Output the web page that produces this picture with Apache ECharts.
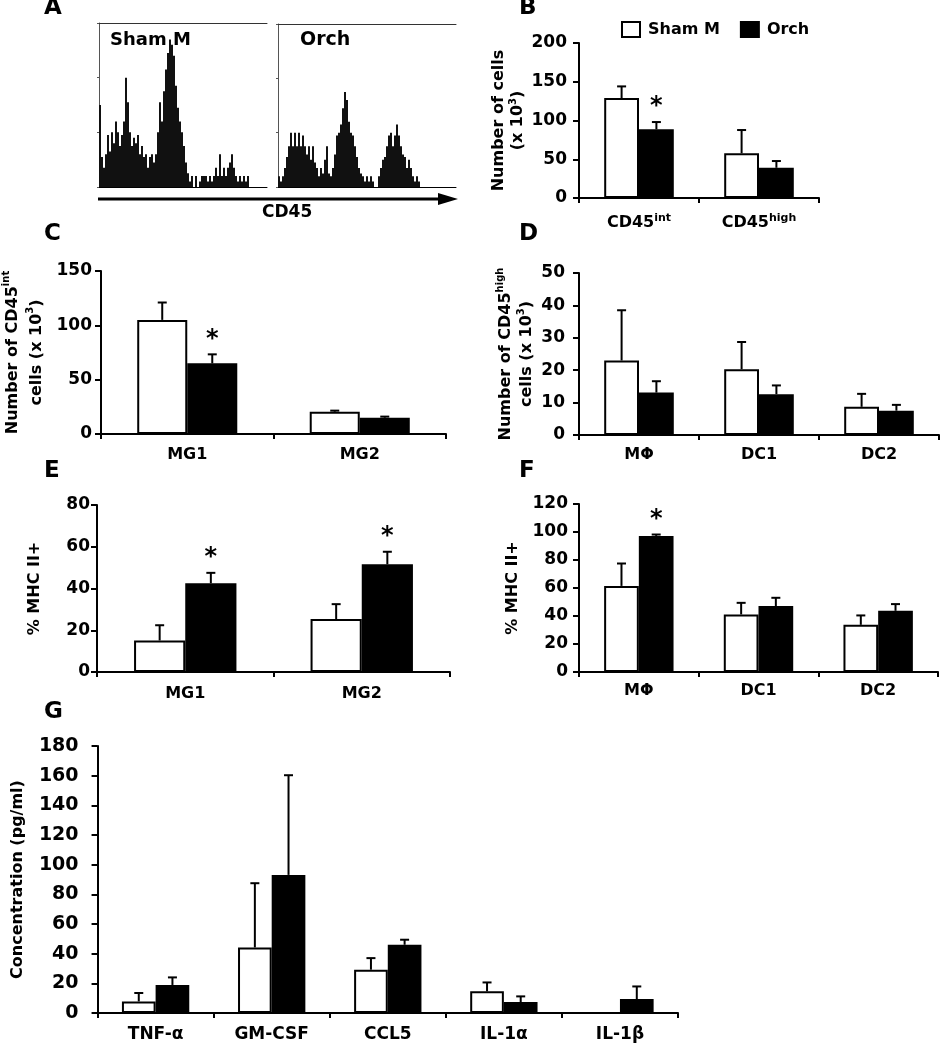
<!DOCTYPE html>
<html><head><meta charset="utf-8">
<script src="https://cdn.jsdelivr.net/npm/echarts@6/dist/echarts.min.js"></script>
<style>html,body{margin:0;padding:0;background:#fff}#c{width:943px;height:1050px}</style>
</head><body><div id="c"></div>
<script>
// ---------- DATA ----------
// Panel A: CD45 flow histograms (counts per channel bin)
const histShamM = [30,11,7,12,19,13,20,16,24,20,15,19,24,40,31,20,15,18,16,19,12,15,11,12,7,11,12,9,12,20,31,24,35,43,49,54,52,48,37,29,24,20,15,9,5,2,4,0,4,0,2,4,4,4,2,4,2,4,7,4,12,4,7,4,7,9,12,7,4,2,4,2,4,2,4,0,0,0,0,0,0,0,0,0];
const histOrch = [4,2,4,7,11,15,20,15,20,15,20,15,19,15,12,15,10,15,9,7,4,7,5,10,15,5,4,7,12,19,20,23,29,35,32,24,20,19,15,11,7,5,4,2,4,2,4,2,0,0,4,7,10,11,15,19,20,15,19,23,19,15,12,11,7,10,7,4,2,4,2,0,0,0,0,0,0,0,0,0,0,0,0,0,0,0,0,0,0];
const histYMax = 60, histYStep = 20;

const seriesNames = ['Sham M', 'Orch'];

// Panel B
const catsB = ['CD45|int', 'CD45|high'];
const shamB = [129, 57.7], shamBErr = [15, 30];
const orchB = [88.6, 39], orchBErr = [9.4, 8.7];
const sigB = [1, 0];
// Panel C
const catsC = ['MG1', 'MG2'];
const shamC = [105, 20.5], shamCErr = [16, 1];
const orchC = [65, 15], orchCErr = [8.3, 1];
const sigC = [1, 0];
// Panel D
const catsD = ['MΦ', 'DC1', 'DC2'];
const shamD = [23, 20.3, 8.7], shamDErr = [15.5, 8.4, 4];
const orchD = [13.1, 12.6, 7.5], orchDErr = [3.5, 2.7, 1.8];
const sigD = [0, 0, 0];
// Panel E
const catsE = ['MG1', 'MG2'];
const shamE = [15.1, 25.4], shamEErr = [7.3, 7.1];
const orchE = [42.5, 51.6], orchEErr = [5, 6];
const sigE = [1, 1];
// Panel F
const catsF = ['MΦ', 'DC1', 'DC2'];
const shamF = [61.5, 41.1, 33.7], shamFErr = [16, 8.3, 6.7];
const orchF = [97.2, 47.1, 43.7], orchFErr = [1, 5.9, 4.8];
const sigF = [1, 0, 0];
// Panel G
const catsG = ['TNF-α', 'GM-CSF', 'CCL5', 'IL-1α', 'IL-1β'];
const shamG = [7.8, 44.2, 29.2, 14.6, 0], shamGErr = [5.7, 43.3, 7.8, 6, 0];
const orchG = [18.9, 93.1, 46, 7.4, 9.4], orchGErr = [5.1, 67.2, 3.4, 3.8, 8.5];
const sigG = [0, 0, 0, 0, 0];

// ---------- CHART ----------
const FONT = 'DejaVu Sans';
const BARW = 0.29;
const grids = [], xAxes = [], yAxes = [], series = [];

function errRender(sign, sig, asteriskGap) {
  return function (params, api) {
    const xi = api.value(0), v = api.value(1), top = api.value(2);
    const base = api.coord([xi, v]);
    const hi = api.coord([xi, top]);
    const band = api.size([1, 0])[0];
    const x = base[0] + sign * band * BARW / 2;
    const children = [];
    if (top > v) {
      children.push({ type: 'line', shape: { x1: x, y1: base[1], x2: x, y2: hi[1] }, style: { stroke: '#000', lineWidth: 2 } });
      children.push({ type: 'line', shape: { x1: x - 4.5, y1: hi[1], x2: x + 4.5, y2: hi[1] }, style: { stroke: '#000', lineWidth: 2 } });
    }
    if (sig[xi]) {
      children.push({ type: 'text', style: { text: '*', x: x, y: hi[1] - asteriskGap, textAlign: 'center', textVerticalAlign: 'middle', font: 'bold 24px "' + FONT + '"', fill: '#000' } });
    }
    return { type: 'group', children };
  };
}

function addPanel(cfg) {
  const gi = grids.length;
  grids.push({ left: cfg.x0, top: cfg.y0, width: cfg.x1 - cfg.x0, height: cfg.y1 - cfg.y0 });
  const xi = xAxes.length;
  xAxes.push({
    type: 'category', gridIndex: gi, data: cfg.cats,
    axisLine: { lineStyle: { color: '#000', width: 2 } },
    axisTick: { show: true, length: 5, lineStyle: { color: '#000', width: 2 } },
    axisLabel: {
      interval: 0,
      color: '#000', fontFamily: FONT, fontWeight: 'bold', fontSize: cfg.catFont, margin: cfg.catMargin,
      formatter: function (val) {
        const p = val.split('|');
        return p.length > 1 ? '{b|' + p[0] + '}{s|' + p[1] + '}' : '{b|' + val + '}';
      },
      rich: {
        b: { fontFamily: FONT, fontWeight: 'bold', fontSize: cfg.catFont, color: '#000', lineHeight: 20 },
        s: { fontFamily: FONT, fontWeight: 'bold', fontSize: 11, color: '#000', verticalAlign: 'top', lineHeight: 20 }
      }
    }
  });
  const yi = yAxes.length;
  yAxes.push({
    type: 'value', gridIndex: gi, min: 0, max: cfg.ymax, interval: cfg.step,
    splitLine: { show: false },
    axisLine: { show: true, lineStyle: { color: '#000', width: 2 } },
    axisTick: { show: true, length: 6, lineStyle: { color: '#000', width: 2 } },
    axisLabel: { color: '#000', fontFamily: FONT, fontWeight: 'bold', fontSize: cfg.tickFont, margin: cfg.tickMargin },
    name: cfg.yName, nameLocation: 'middle', nameRotate: 90, nameGap: cfg.nameGap,
    nameTextStyle: {
      color: '#000', fontFamily: FONT, fontWeight: 'bold', fontSize: 16, lineHeight: cfg.nameLH,
      rich: {
        t: { fontFamily: FONT, fontWeight: 'bold', fontSize: 16, color: '#000', lineHeight: cfg.nameLH },
        s: { fontFamily: FONT, fontWeight: 'bold', fontSize: 10, color: '#000', verticalAlign: 'top', lineHeight: cfg.nameLH }
      }
    }
  });
  const vals = [cfg.sham, cfg.orch], errs = [cfg.shamErr, cfg.orchErr];
  [0, 1].forEach(function (k) {
    series.push({
      name: seriesNames[k], type: 'bar', xAxisIndex: xi, yAxisIndex: yi,
      data: vals[k], barWidth: (BARW * 100) + '%', barGap: '0%',
      itemStyle: { color: k === 0 ? '#fff' : '#000', borderColor: '#000', borderWidth: 2 },
      z: 2
    });
  });
  [0, 1].forEach(function (k) {
    series.push({
      type: 'custom', xAxisIndex: xi, yAxisIndex: yi, z: 5,
      renderItem: errRender(k === 0 ? -1 : 1, k === 1 ? cfg.sig : cfg.cats.map(() => 0), 15),
      data: cfg.cats.map(function (c, i) { return [i, vals[k][i], vals[k][i] + errs[k][i]]; })
    });
  });
}

function addHist(x0, x1, y0, y1, data) {
  const gi = grids.length;
  grids.push({ left: x0, top: y0, width: x1 - x0, height: y1 - y0 });
  const idx = data.map((d, i) => i);
  const xi = xAxes.length;
  xAxes.push({ type: 'category', gridIndex: gi, data: idx, axisLine: { lineStyle: { color: '#000', width: 1 } }, axisTick: { show: false }, axisLabel: { show: false } });
  xAxes.push({ type: 'category', gridIndex: gi, position: 'top', data: idx, axisLine: { lineStyle: { color: '#333', width: 1 } }, axisTick: { show: false }, axisLabel: { show: false } });
  const yi = yAxes.length;
  yAxes.push({ type: 'value', gridIndex: gi, min: 0, max: histYMax, interval: histYStep, splitLine: { show: false },
    axisLine: { show: true, lineStyle: { color: '#555', width: 1 } }, axisTick: { show: true, length: 2, lineStyle: { color: '#555' } }, axisLabel: { show: false } });
  series.push({ type: 'bar', xAxisIndex: xi, yAxisIndex: yi, data: data, barCategoryGap: '0%', barGap: '0%', itemStyle: { color: '#111' }, silent: true });
}

addHist(99, 267, 23, 187, histShamM);
addHist(278, 456, 24, 187, histOrch);

addPanel({ x0: 579, x1: 819, y0: 43, y1: 198, cats: catsB, ymax: 200, step: 50, sham: shamB, shamErr: shamBErr, orch: orchB, orchErr: orchBErr, sig: sigB,
  tickFont: 17, tickMargin: 12, catFont: 16, catMargin: 15, yName: '{t|Number of cells}\n{t|(x 10}{s|3}{t|)}', nameGap: 44, nameLH: 19 });
addPanel({ x0: 97, x1: 446, y0: 271, y1: 434, cats: catsC, ymax: 150, step: 50, sham: shamC, shamErr: shamCErr, orch: orchC, orchErr: orchCErr, sig: sigC,
  tickFont: 17, tickMargin: 9, catFont: 16, catMargin: 11, yName: '{t|Number of CD45}{s|int}\n{t|cells (x 10}{s|3}{t|)}', nameGap: 52, nameLH: 24 });
addPanel({ x0: 579, x1: 939, y0: 273, y1: 435, cats: catsD, ymax: 50, step: 10, sham: shamD, shamErr: shamDErr, orch: orchD, orchErr: orchDErr, sig: sigD,
  tickFont: 17, tickMargin: 14, catFont: 16, catMargin: 10, yName: '{t|Number of CD45}{s|high}\n{t|cells (x 10}{s|3}{t|)}', nameGap: 41, nameLH: 21 });
addPanel({ x0: 97, x1: 450, y0: 505, y1: 672, cats: catsE, ymax: 80, step: 20, sham: shamE, shamErr: shamEErr, orch: orchE, orchErr: orchEErr, sig: sigE,
  tickFont: 17, tickMargin: 7, catFont: 16, catMargin: 12, yName: '{t|% MHC II+}', nameGap: 52, nameLH: 20 });
addPanel({ x0: 579, x1: 938, y0: 504, y1: 672, cats: catsF, ymax: 120, step: 20, sham: shamF, shamErr: shamFErr, orch: orchF, orchErr: orchFErr, sig: sigF,
  tickFont: 17, tickMargin: 11, catFont: 16, catMargin: 9, yName: '{t|% MHC II+}', nameGap: 56, nameLH: 20 });
addPanel({ x0: 97, x1: 678, y0: 746, y1: 1013, cats: catsG, ymax: 180, step: 20, sham: shamG, shamErr: shamGErr, orch: orchG, orchErr: orchGErr, sig: sigG,
  tickFont: 19, tickMargin: 19, catFont: 17, catMargin: 12, yName: '{t|Concentration (pg/ml)}', nameGap: 69, nameLH: 20 });

function letter(t, x, y) {
  return { type: 'text', left: x, top: y, style: { text: t, font: 'bold 23px "' + FONT + '"', fill: '#000' } };
}

const option = {
  animation: false,
  backgroundColor: '#fff',
  textStyle: { fontFamily: FONT },
  grid: grids, xAxis: xAxes, yAxis: yAxes, series: series,
  legend: {
    data: seriesNames, left: 616, top: 16, icon: 'rect', itemWidth: 18, itemHeight: 15, itemGap: 20,
    textStyle: { fontFamily: FONT, fontWeight: 'bold', fontSize: 16, color: '#000', padding: [0, 0, 0, 3] }
  },
  graphic: [
    letter('A', 44, -3), letter('B', 519, -3), letter('C', 44, 223), letter('D', 519, 223),
    letter('E', 44, 460), letter('F', 519, 460), letter('G', 44, 701),
    { type: 'text', left: 110, top: 31, style: { text: 'Sham M', font: 'bold 18px "' + FONT + '"', fill: '#000' } },
    { type: 'text', left: 300, top: 31, style: { text: 'Orch', font: 'bold 19px "' + FONT + '"', fill: '#000' } },
    { type: 'line', shape: { x1: 98, y1: 199, x2: 442, y2: 199 }, style: { stroke: '#000', lineWidth: 3 } },
    { type: 'polygon', shape: { points: [[438, 193], [458, 199], [438, 205]] }, style: { fill: '#000' } },
    { type: 'text', left: 262, top: 204, style: { text: 'CD45', font: 'bold 17px "' + FONT + '"', fill: '#000' } }
  ]
};

const chart = echarts.init(document.getElementById('c'), null, { renderer: 'canvas' });
chart.setOption(option);
</script>
</body></html>
